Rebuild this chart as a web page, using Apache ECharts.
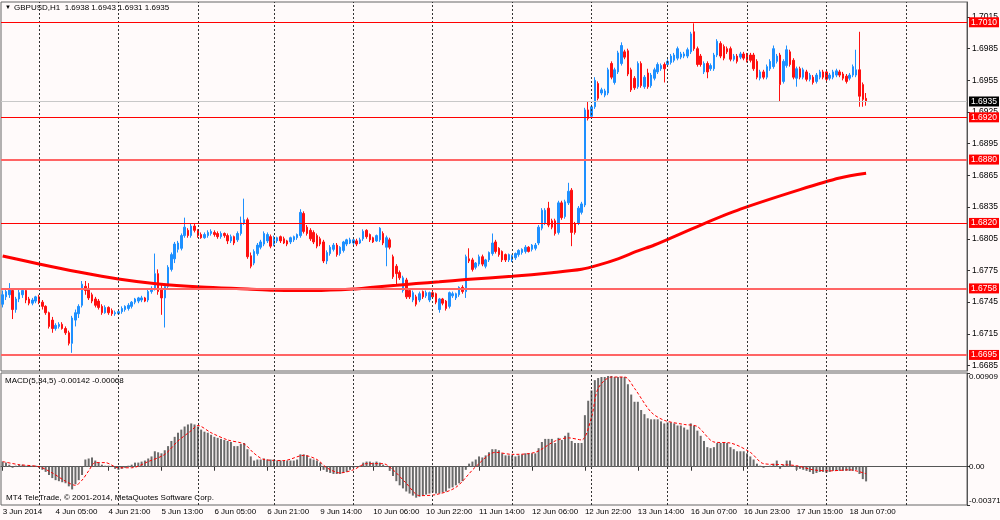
<!DOCTYPE html>
<html><head><meta charset="utf-8">
<script src="https://cdn.jsdelivr.net/npm/echarts@6/dist/echarts.min.js"></script>
<style>html,body{margin:0;padding:0;background:#fffafa;}#c{width:1000px;height:520px;}</style>
</head><body><div id="c"></div>
<script>
// ---- time structure: [day label, first hour, last hour]
const days = [['3 Jun',13,23],['4 Jun',0,23],['5 Jun',0,23],['6 Jun',0,22],['9 Jun',0,23],['10 Jun',0,23],
  ['11 Jun',0,23],['12 Jun',0,23],['13 Jun',0,22],['16 Jun',0,23],['17 Jun',0,23],['18 Jun',0,12]];
const timeLabels = ['3 Jun 2014','4 Jun 05:00','4 Jun 21:00','5 Jun 13:00','6 Jun 05:00','6 Jun 21:00','9 Jun 14:00',
  '10 Jun 06:00','10 Jun 22:00','11 Jun 14:00','12 Jun 06:00','12 Jun 22:00','13 Jun 14:00','16 Jun 07:00',
  '16 Jun 23:00','17 Jun 15:00','18 Jun 07:00'];
const priceTicks = [1.6685,1.6715,1.6745,1.6775,1.6805,1.6835,1.6865,1.6895,1.6925,1.6955,1.6985,1.7015];
const macdTicks = [-0.00371,0,0.00909];
const levels = [1.7010,1.6920,1.6880,1.6820,1.6758,1.6695];
const lastPrice = 1.6935;

const openP = [
1.6743,1.6750,1.6752,1.6756,1.6738,1.6748,1.6752,1.6756,1.6748,1.6744,
1.6746,1.6750,1.6745,1.6741,1.6735,1.6728,1.6720,1.6722,1.6724,1.6720,
1.6716,1.6706,1.6728,1.6734,1.6742,1.6760,1.6758,1.6752,1.6748,1.6746,
1.6741,1.6735,1.6740,1.6737,1.6734,1.6734,1.6736,1.6738,1.6739,1.6741,
1.6745,1.6746,1.6747,1.6749,1.6747,1.6755,1.6758,1.6772,1.6758,1.6749,
1.6760,1.6776,1.6786,1.6795,1.6796,1.6808,1.6813,1.6808,1.6817,1.6813,
1.6809,1.6806,1.6808,1.6810,1.6811,1.6810,1.6807,1.6810,1.6808,1.6803,
1.6807,1.6804,1.6810,1.6820,1.6823,1.6789,1.6782,1.6791,1.6797,1.6800,
1.6803,1.6807,1.6800,1.6803,1.6807,1.6805,1.6803,1.6802,1.6804,1.6806,
1.6808,1.6829,1.6816,1.6813,1.6811,1.6808,1.6805,1.6802,1.6784,1.6791,
1.6795,1.6799,1.6791,1.6794,1.6800,1.6801,1.6801,1.6803,1.6801,1.6805,
1.6813,1.6809,1.6806,1.6803,1.6804,1.6810,1.6797,1.6804,1.6788,1.6779,
1.6773,1.6756,1.6766,1.6756,1.6747,1.6750,1.6747,1.6755,1.6751,1.6747,
1.6754,1.6753,1.6738,1.6748,1.6746,1.6741,1.6751,1.6749,1.6752,1.6759,
1.6755,1.6786,1.6785,1.6778,1.6781,1.6788,1.6779,1.6785,1.6791,1.6802,
1.6796,1.6793,1.6790,1.6785,1.6785,1.6787,1.6790,1.6792,1.6793,1.6797,
1.6795,1.6796,1.6801,1.6815,1.6820,1.6834,1.6822,1.6822,1.6811,1.6839,
1.6826,1.6839,1.6851,1.6819,1.6820,1.6830,1.6837,1.6927,1.6921,1.6930,
1.6952,1.6943,1.6941,1.6943,1.6971,1.6953,1.6963,1.6971,1.6982,1.6983,
1.6965,1.6957,1.6949,1.6971,1.6949,1.6962,1.6950,1.6957,1.6963,1.6966,
1.6970,1.6970,1.6972,1.6974,1.6976,1.6977,1.6978,1.6978,1.6982,1.7001,
1.6985,1.6978,1.6963,1.6971,1.6966,1.6966,1.6979,1.6990,1.6987,1.6985,
1.6985,1.6975,1.6978,1.6977,1.6980,1.6979,1.6979,1.6979,1.6973,1.6957,
1.6963,1.6958,1.6966,1.6968,1.6973,1.6979,1.6954,1.6969,1.6982,1.6974,
1.6957,1.6966,1.6958,1.6963,1.6956,1.6958,1.6954,1.6958,1.6963,1.6963,
1.6957,1.6958,1.6960,1.6963,1.6961,1.6959,1.6957,1.6960,1.6960,1.6965,
1.6951,1.6938];
const closeP = [
1.6752,1.6755,1.6757,1.6738,1.6748,1.6754,1.6756,1.6747,1.6744,1.6747,
1.6750,1.6745,1.6741,1.6735,1.6722,1.6720,1.6723,1.6724,1.6720,1.6716,
1.6706,1.6730,1.6735,1.6741,1.6762,1.6756,1.6749,1.6746,1.6742,1.6740,
1.6735,1.6740,1.6735,1.6734,1.6735,1.6736,1.6739,1.6741,1.6742,1.6745,
1.6748,1.6749,1.6749,1.6746,1.6755,1.6758,1.6772,1.6755,1.6749,1.6760,
1.6778,1.6790,1.6800,1.6801,1.6808,1.6816,1.6808,1.6817,1.6813,1.6808,
1.6806,1.6809,1.6811,1.6812,1.6809,1.6807,1.6810,1.6808,1.6803,1.6807,
1.6801,1.6810,1.6820,1.6823,1.6788,1.6779,1.6793,1.6799,1.6802,1.6810,
1.6809,1.6798,1.6806,1.6806,1.6803,1.6801,1.6800,1.6806,1.6807,1.6809,
1.6830,1.6812,1.6810,1.6805,1.6802,1.6798,1.6800,1.6784,1.6792,1.6797,
1.6799,1.6790,1.6797,1.6802,1.6804,1.6804,1.6804,1.6800,1.6804,1.6812,
1.6807,1.6804,1.6802,1.6808,1.6815,1.6801,1.6806,1.6797,1.6769,1.6772,
1.6768,1.6768,1.6750,1.6750,1.6754,1.6743,1.6753,1.6750,1.6754,1.6754,
1.6750,1.6745,1.6748,1.6744,1.6739,1.6754,1.6753,1.6753,1.6759,1.6755,
1.6788,1.6784,1.6776,1.6782,1.6788,1.6781,1.6785,1.6792,1.6801,1.6793,
1.6790,1.6785,1.6785,1.6790,1.6789,1.6791,1.6794,1.6795,1.6797,1.6793,
1.6799,1.6799,1.6816,1.6832,1.6832,1.6818,1.6816,1.6810,1.6839,1.6825,
1.6840,1.6850,1.6811,1.6811,1.6834,1.6838,1.6927,1.6919,1.6930,1.6955,
1.6938,1.6946,1.6945,1.6965,1.6958,1.6965,1.6981,1.6988,1.6977,1.6961,
1.6946,1.6948,1.6971,1.6950,1.6958,1.6949,1.6960,1.6965,1.6970,1.6969,
1.6966,1.6973,1.6978,1.6979,1.6985,1.6980,1.6980,1.6984,1.6999,1.6985,
1.6970,1.6970,1.6971,1.6963,1.6969,1.6979,1.6992,1.6978,1.6976,1.6982,
1.6975,1.6978,1.6973,1.6980,1.6976,1.6974,1.6974,1.6966,1.6958,1.6963,
1.6958,1.6968,1.6973,1.6985,1.6978,1.6951,1.6973,1.6984,1.6970,1.6958,
1.6966,1.6958,1.6965,1.6956,1.6960,1.6953,1.6960,1.6963,1.6958,1.6956,
1.6960,1.6963,1.6964,1.6960,1.6957,1.6954,1.6960,1.6968,1.6965,1.6940,
1.6937,1.6935];
const lowP = [
1.6740,1.6747,1.6749,1.6729,1.6735,1.6745,1.6749,1.6744,1.6742,1.6742,
1.6744,1.6743,1.6738,1.6733,1.6720,1.6716,1.6718,1.6720,1.6719,1.6714,
1.6704,1.6697,1.6722,1.6730,1.6740,1.6752,1.6747,1.6744,1.6740,1.6738,
1.6733,1.6734,1.6733,1.6732,1.6732,1.6733,1.6734,1.6736,1.6737,1.6739,
1.6743,1.6744,1.6745,1.6745,1.6745,1.6753,1.6756,1.6752,1.6733,1.6721,
1.6758,1.6774,1.6782,1.6792,1.6794,1.6806,1.6806,1.6806,1.6811,1.6806,
1.6805,1.6805,1.6806,1.6808,1.6807,1.6805,1.6805,1.6806,1.6800,1.6801,
1.6799,1.6802,1.6808,1.6818,1.6786,1.6777,1.6780,1.6789,1.6795,1.6798,
1.6801,1.6796,1.6798,1.6801,1.6801,1.6800,1.6798,1.6800,1.6802,1.6804,
1.6806,1.6810,1.6808,1.6803,1.6800,1.6796,1.6798,1.6782,1.6781,1.6789,
1.6793,1.6788,1.6789,1.6792,1.6798,1.6800,1.6799,1.6798,1.6800,1.6803,
1.6805,1.6802,1.6801,1.6802,1.6802,1.6799,1.6779,1.6795,1.6767,1.6762,
1.6766,1.6754,1.6748,1.6748,1.6745,1.6741,1.6745,1.6748,1.6749,1.6745,
1.6748,1.6743,1.6735,1.6742,1.6737,1.6739,1.6749,1.6747,1.6750,1.6753,
1.6749,1.6782,1.6774,1.6776,1.6779,1.6779,1.6777,1.6783,1.6789,1.6791,
1.6788,1.6783,1.6783,1.6783,1.6783,1.6785,1.6788,1.6790,1.6791,1.6792,
1.6793,1.6794,1.6799,1.6813,1.6818,1.6816,1.6814,1.6808,1.6809,1.6823,
1.6824,1.6837,1.6798,1.6809,1.6818,1.6828,1.6835,1.6917,1.6919,1.6928,
1.6936,1.6941,1.6939,1.6941,1.6956,1.6951,1.6961,1.6969,1.6975,1.6959,
1.6944,1.6946,1.6947,1.6948,1.6947,1.6947,1.6948,1.6955,1.6961,1.6964,
1.6953,1.6968,1.6970,1.6972,1.6974,1.6975,1.6976,1.6976,1.6980,1.6983,
1.6968,1.6968,1.6961,1.6957,1.6964,1.6964,1.6977,1.6976,1.6974,1.6980,
1.6973,1.6973,1.6971,1.6975,1.6974,1.6972,1.6972,1.6964,1.6956,1.6955,
1.6956,1.6956,1.6964,1.6966,1.6971,1.6935,1.6952,1.6967,1.6968,1.6956,
1.6949,1.6956,1.6956,1.6954,1.6954,1.6951,1.6952,1.6956,1.6956,1.6954,
1.6955,1.6956,1.6958,1.6958,1.6955,1.6952,1.6955,1.6958,1.6958,1.6930,
1.6930,1.6931];
const highP = [
1.6756,1.6758,1.6763,1.6758,1.6750,1.6757,1.6758,1.6758,1.6750,1.6749,
1.6751,1.6752,1.6747,1.6742,1.6736,1.6731,1.6725,1.6726,1.6726,1.6722,
1.6718,1.6732,1.6738,1.6743,1.6765,1.6765,1.6763,1.6754,1.6750,1.6748,
1.6743,1.6742,1.6741,1.6739,1.6737,1.6738,1.6741,1.6742,1.6744,1.6746,
1.6749,1.6750,1.6751,1.6750,1.6757,1.6760,1.6791,1.6776,1.6762,1.6762,
1.6780,1.6792,1.6802,1.6803,1.6810,1.6825,1.6815,1.6819,1.6819,1.6814,
1.6811,1.6811,1.6813,1.6814,1.6813,1.6812,1.6812,1.6811,1.6810,1.6809,
1.6808,1.6812,1.6826,1.6843,1.6825,1.6792,1.6795,1.6801,1.6804,1.6812,
1.6811,1.6809,1.6808,1.6807,1.6808,1.6807,1.6804,1.6807,1.6808,1.6810,
1.6833,1.6831,1.6818,1.6815,1.6813,1.6810,1.6807,1.6804,1.6794,1.6799,
1.6801,1.6801,1.6798,1.6803,1.6805,1.6806,1.6805,1.6805,1.6806,1.6814,
1.6814,1.6810,1.6807,1.6809,1.6816,1.6812,1.6808,1.6806,1.6790,1.6781,
1.6775,1.6770,1.6768,1.6758,1.6756,1.6752,1.6755,1.6756,1.6756,1.6755,
1.6756,1.6754,1.6749,1.6749,1.6747,1.6755,1.6755,1.6754,1.6760,1.6761,
1.6790,1.6796,1.6787,1.6783,1.6790,1.6790,1.6786,1.6793,1.6810,1.6804,
1.6797,1.6794,1.6791,1.6791,1.6790,1.6792,1.6795,1.6796,1.6799,1.6798,
1.6800,1.6801,1.6818,1.6834,1.6834,1.6840,1.6824,1.6824,1.6841,1.6841,
1.6842,1.6858,1.6853,1.6821,1.6836,1.6840,1.6929,1.6935,1.6932,1.6958,
1.6954,1.6948,1.6947,1.6967,1.6973,1.6967,1.6983,1.6991,1.6984,1.6985,
1.6967,1.6959,1.6973,1.6973,1.6960,1.6966,1.6962,1.6967,1.6972,1.6971,
1.6972,1.6975,1.6980,1.6981,1.6987,1.6982,1.6982,1.6986,1.7001,1.7009,
1.6987,1.6980,1.6973,1.6973,1.6971,1.6981,1.6994,1.6992,1.6989,1.6987,
1.6987,1.6980,1.6980,1.6982,1.6982,1.6981,1.6981,1.6981,1.6975,1.6965,
1.6965,1.6970,1.6975,1.6988,1.6980,1.6981,1.6975,1.6988,1.6984,1.6976,
1.6968,1.6968,1.6967,1.6965,1.6962,1.6960,1.6962,1.6965,1.6965,1.6965,
1.6962,1.6965,1.6966,1.6965,1.6963,1.6961,1.6962,1.6970,1.6984,1.7001,
1.6953,1.6943];

// moving average, read at selected bars: [bar index, value]
const maPoints = [[0,1.67887],[11,1.67811],[23,1.67735],[35,1.67669],[47,1.67622],[60,1.67593],[74,1.67574],
  [82,1.67562],[94,1.67560],[106,1.67574],[112,1.67592],[119,1.67610],[125,1.67626],[132,1.67643],[140,1.67664],
  [154,1.67695],[166,1.67729],[175,1.67761],[180,1.67800],[186,1.67860],[192,1.67935],[197,1.67991],
  [211,1.68180],[223,1.68330],[241,1.68515],[253,1.68625],[261,1.68670]];

const macdHist = [
0.0005,0.0004,0.0002,-0.0001,0.0001,0.0002,0.0002,0.0001,0.0000,0.0001,
0.0001,-0.0001,-0.0003,-0.0005,-0.0008,-0.0011,-0.0013,-0.0014,-0.0015,-0.0016,
-0.0019,-0.0022,-0.0017,-0.0013,-0.0008,0.0007,0.0008,0.0009,0.0006,0.0004,
0.0002,0.0001,0.0001,0.0000,-0.0002,-0.0003,-0.0002,-0.0001,0.0001,0.0002,
0.0004,0.0004,0.0005,0.0006,0.0008,0.0010,0.0015,0.0014,0.0013,0.0016,
0.0020,0.0025,0.0029,0.0033,0.0036,0.0039,0.0041,0.0042,0.0041,0.0039,
0.0036,0.0034,0.0033,0.0031,0.0029,0.0028,0.0027,0.0026,0.0025,0.0024,
0.0020,0.0020,0.0022,0.0023,0.0017,0.0010,0.0006,0.0007,0.0007,0.0008,
0.0007,0.0007,0.0007,0.0006,0.0006,0.0006,0.0006,0.0006,0.0006,0.0007,
0.0012,0.0012,0.0011,0.0008,0.0007,0.0006,0.0004,-0.0003,-0.0005,-0.0006,
-0.0007,-0.0007,-0.0007,-0.0006,-0.0005,-0.0003,-0.0001,0.0000,0.0001,0.0004,
0.0005,0.0005,0.0004,0.0005,0.0004,0.0002,0.0000,-0.0004,-0.0009,-0.0014,
-0.0018,-0.0021,-0.0024,-0.0026,-0.0028,-0.0030,-0.0029,-0.0028,-0.0027,-0.0026,
-0.0025,-0.0026,-0.0026,-0.0025,-0.0024,-0.0021,-0.0020,-0.0018,-0.0016,-0.0014,
-0.0003,0.0003,0.0005,0.0007,0.0010,0.0009,0.0011,0.0014,0.0017,0.0017,
0.0016,0.0013,0.0011,0.0011,0.0011,0.0010,0.0011,0.0012,0.0013,0.0013,
0.0013,0.0013,0.0018,0.0024,0.0027,0.0027,0.0027,0.0023,0.0028,0.0026,
0.0030,0.0033,0.0025,0.0023,0.0023,0.0023,0.0050,0.0064,0.0074,0.0084,
0.0086,0.0087,0.0087,0.0088,0.0088,0.0087,0.0087,0.0087,0.0087,0.0080,
0.0070,0.0063,0.0063,0.0055,0.0051,0.0047,0.0046,0.0046,0.0046,0.0044,
0.0042,0.0043,0.0043,0.0042,0.0040,0.0040,0.0038,0.0036,0.0042,0.0040,
0.0035,0.0030,0.0025,0.0019,0.0018,0.0019,0.0023,0.0023,0.0023,0.0023,
0.0019,0.0017,0.0015,0.0015,0.0015,0.0013,0.0010,0.0007,0.0003,0.0001,
-0.0001,0.0000,0.0001,0.0003,0.0006,-0.0002,0.0002,0.0006,0.0006,0.0001,
-0.0003,-0.0002,-0.0003,-0.0004,-0.0005,-0.0007,-0.0006,-0.0005,-0.0005,-0.0006,
-0.0005,-0.0004,-0.0004,-0.0004,-0.0004,-0.0004,-0.0004,-0.0004,-0.0003,-0.0007,
-0.0012,-0.00142];

// signal line, read at selected bars: [bar index, value]
const signalPoints = [[0,0.0005],[5,0.0002],[11,0.0000],[15,-0.0006],[19,-0.0014],[22,-0.0018],[24,-0.0013],
  [26,-0.0004],[28,0.0004],[31,0.0004],[35,-0.0001],[39,-0.0001],[44,0.0005],[49,0.0012],[53,0.0025],
  [57,0.0035],[59,0.0040],[63,0.0033],[68,0.0026],[73,0.0022],[76,0.0013],[79,0.0007],[85,0.0006],
  [91,0.0011],[95,0.0007],[98,-0.0001],[102,-0.0006],[106,-0.0003],[110,0.0003],[115,0.0003],[118,-0.0003],
  [122,-0.0016],[126,-0.0028],[131,-0.0027],[137,-0.0020],[143,0.0000],[149,0.0014],[154,0.0012],
  [161,0.0014],[167,0.0025],[171,0.0028],[175,0.0026],[178,0.0048],[180,0.0076],[184,0.0087],[188,0.0087],
  [191,0.0076],[196,0.0053],[200,0.0045],[206,0.0041],[210,0.0039],[215,0.0024],[220,0.0023],[226,0.0014],
  [230,0.0003],[236,0.0002],[240,0.0001],[245,-0.0003],[250,-0.0004],[256,-0.0003],[261,-0.00068]];

// ---- build
const SLOTS = 292;
const categories = [];
days.forEach(([d,h0,h1]) => { for (let h = h0; h <= h1; h++) categories.push(d + ' ' + String(h).padStart(2,'0') + ':00'); });
for (let k = categories.length; k < SLOTS; k++) categories.push('future ' + k);
const nBars = closeP.length;
const candleData = openP.map((o,i) => [o, closeP[i], lowP[i], highP[i]]);
const dayStarts = [];
categories.forEach((c,i) => { if (c.endsWith(' 00:00')) dayStarts.push(i); });
dayStarts.push(dayStarts[dayStarts.length-1] + 24);

const FONT = "'Liberation Sans',Arial,sans-serif";
const vLines = () => dayStarts.map(i => ({xAxis:i, lineStyle:{color:'#333', width:1, type:[2,2]}, label:{show:false}}));
const thick = new Set([1.6880,1.6758,1.6695]);
const lvlLabel = (bg) => ({show:true, position:'end', distance:2, formatter:p => Number(p.value).toFixed(4),
  color:'#fff', backgroundColor:bg, fontSize:8.5, fontFamily:FONT, padding:[1,2,0,2], lineHeight:9});
const levelLines = levels.map(v => ({yAxis:v,
  lineStyle: thick.has(v) ? {color:'#ff6464', width:2, type:'solid', opacity:1} : {color:'#ff0000', width:1, type:'solid', opacity:1},
  label: lvlLabel('#ff0000')}));
const priceLine = {yAxis:lastPrice, lineStyle:{color:'#c8c8c8', width:1, type:'solid'}, label:lvlLabel('#000')};
const showIdx = (idx) => idx % 16 === 0 && idx < nBars;

const chart = echarts.init(document.getElementById('c'));
chart.setOption({
  animation:false,
  backgroundColor:'#fffafa',
  grid:[
    {left:1, right:33, top:2, height:369, outerBoundsMode:'none', containLabel:false, show:true, borderColor:'#666', borderWidth:1, backgroundColor:'#fffafa'},
    {left:1, right:33, top:373, height:132, outerBoundsMode:'none', containLabel:false, show:true, borderColor:'#666', borderWidth:1, backgroundColor:'#fffafa'}
  ],
  xAxis:[
    {type:'category', gridIndex:0, data:categories, show:false},
    {type:'category', gridIndex:1, data:categories,
      axisLine:{show:true, lineStyle:{color:'#555'}},
      axisTick:{show:true, interval:showIdx, alignWithLabel:true, length:4, lineStyle:{color:'#333'}},
      axisLabel:{interval:showIdx, formatter:(v,idx) => timeLabels[idx/16] || '', align:'left',
        fontSize:8, color:'#000', margin:3, fontFamily:FONT},
      splitLine:{show:false}}
  ],
  yAxis:[
    {type:'value', gridIndex:0, position:'right', min:1.66798, max:1.70292, splitLine:{show:false},
      axisLine:{show:true, lineStyle:{color:'#555'}},
      axisTick:{show:true, length:3, customValues:priceTicks, lineStyle:{color:'#333'}},
      axisLabel:{customValues:priceTicks, formatter:v => v.toFixed(4), fontSize:8.5, color:'#000', margin:5, fontFamily:FONT}},
    {type:'value', gridIndex:1, position:'right', min:-0.00371, max:0.00909, splitLine:{show:false},
      axisLine:{show:true, lineStyle:{color:'#555'}},
      axisTick:{show:true, length:3, customValues:macdTicks, lineStyle:{color:'#333'}},
      axisLabel:{customValues:macdTicks, formatter:v => v === 0 ? '0.00' : v.toFixed(5), fontSize:8, color:'#000',
        margin:2, fontFamily:FONT, verticalAlignMaxLabel:'top', verticalAlignMinLabel:'bottom'}}
  ],
  series:[
    {type:'candlestick', xAxisIndex:0, yAxisIndex:0, data:candleData, barWidth:2,
      itemStyle:{color:'#1e90ff', color0:'#ff1010', borderColor:'#1e90ff', borderColor0:'#ff1010', borderWidth:1},
      markLine:{silent:true, symbol:['none','none'], animation:false, data:vLines()}},
    {type:'line', xAxisIndex:0, yAxisIndex:0, data:maPoints, smooth:0.3, showSymbol:false,
      lineStyle:{color:'#ff0000', width:3}, z:4,
      markLine:{silent:true, precision:4, symbol:['none','none'], animation:false, data:[priceLine, ...levelLines]}},
    {type:'bar', xAxisIndex:1, yAxisIndex:1, data:macdHist, barWidth:2, itemStyle:{color:'#6a6a6a'},
      markLine:{silent:true, symbol:['none','none'], animation:false, data:vLines()}},
    {type:'line', xAxisIndex:1, yAxisIndex:1, data:signalPoints, smooth:0.3, showSymbol:false,
      lineStyle:{color:'#ff0000', width:1, type:[3,2]}, z:4}
  ],
  graphic:[
    {type:'text', x:5, y:4, style:{text:'▼', font:'6px ' + FONT, fill:'#000'}},
    {type:'text', x:14, y:4, style:{text:'GBPUSD,H1  1.6938 1.6943 1.6931 1.6935', font:'8px ' + FONT, fill:'#000'}},
    {type:'text', x:5, y:377, style:{text:'MACD(5,34,5) -0.00142 -0.00068', font:'8px ' + FONT, fill:'#000'}},
    {type:'text', x:6, y:494, style:{text:'MT4 TeleTrade, © 2001-2014, MetaQuotes Software Corp.', font:'8px ' + FONT, fill:'#000'}}
  ]
});
</script>
</body></html>
